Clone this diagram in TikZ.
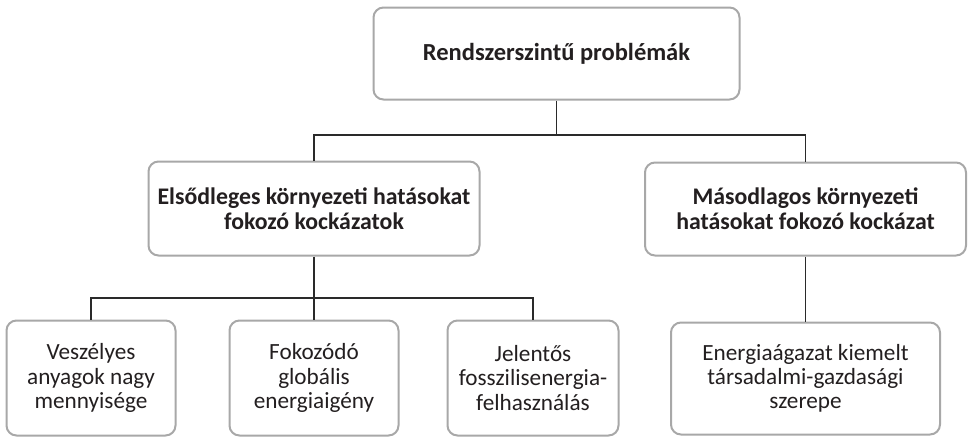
\documentclass[tikz,border=0pt]{standalone}
\usepackage{fontspec}
\setmainfont{Carlito}
\definecolor{boxgray}{HTML}{A8A8A8}
\definecolor{txt}{HTML}{231F20}
\definecolor{linec}{HTML}{2A2A2A}
\begin{document}
\begin{tikzpicture}[x=1pt,y=-1pt,
  box/.style={draw=boxgray, line width=2pt, rounded corners=10pt, fill=white,
    align=center, text=txt, inner sep=0pt, font=\fontsize{23.2}{24.3}\selectfont},
  boldbox/.style={box, font=\fontsize{23.8}{25}\selectfont\bfseries},
  conn/.style={draw=linec, line width=1.3pt}]
\useasboundingbox (0,0) rectangle (969,437);
\node[boldbox, font=\fontsize{24.5}{25}\selectfont\bfseries, minimum width=366pt, minimum height=92pt] (top) at (556.5,53.5) {Rendszerszintű problémák};
\node[boldbox, minimum width=331pt, minimum height=94pt] (ml) at (314,208.5) {Elsődleges környezeti hatásokat\\fokozó kockázatok};
\node[boldbox, minimum width=321pt, minimum height=93pt] (mr) at (805.5,209) {Másodlagos környezeti\\hatásokat fokozó kockázat};
\node[box, minimum width=169pt, minimum height=115pt] (b1) at (91,378) {Veszélyes\\anyagok nagy\\mennyisége};
\node[box, minimum width=169pt, minimum height=115pt] (b2) at (314,378) {Fokozódó\\globális\\energiaigény};
\node[box, minimum width=171pt, minimum height=115pt] (b3) at (533,378) {Jelentős\\fosszilisenergia-\\felhasználás};
\node[box, minimum width=269pt, minimum height=112pt] (b4) at (805.5,378.5) {Energiaágazat kiemelt\\társadalmi-gazdasági\\szerepe};
\coordinate (j1) at (556.5,135);
\coordinate (j2) at (314,298);
\draw[conn] (top.south) -- (j1);
\draw[conn] (ml.north) -- (ml.north |- j1) -| (mr.north);
\draw[conn] (ml.south) -- (b2.north);
\draw[conn] (b1.north) -- (b1.north |- j2) -| (b3.north);
\draw[conn] (mr.south) -- (b4.north);
\end{tikzpicture}
\end{document}
